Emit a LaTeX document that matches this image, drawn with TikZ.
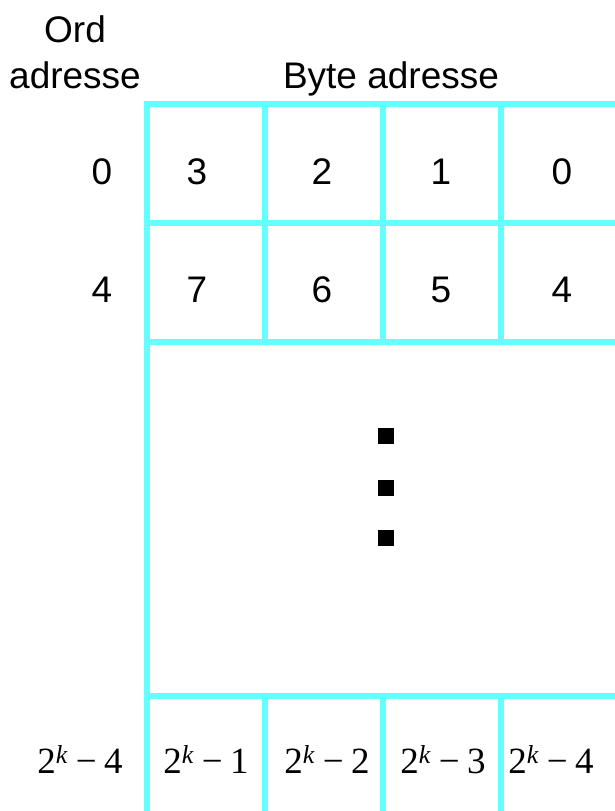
\documentclass[tikz,border=0pt]{standalone}
\usepackage{fontspec}
\setmainfont{Liberation Sans}
\newfontfamily\tms{Liberation Serif}
\usetikzlibrary{positioning}
\definecolor{gridcyan}{RGB}{102,255,255}
\newcommand{\pw}[1]{{\tms 2\textsuperscript{\itshape k}\kern0.22em−\kern0.2em#1}}

\begin{document}
\begin{tikzpicture}[
  x=1pt,y=-1pt,
  font=\fontsize{37}{46}\selectfont,
  lbl/.style={anchor=base,inner sep=0pt},
  pwl/.style={lbl,font=\fontsize{37}{44}\selectfont},
  gl/.style={draw=gridcyan,line width=6pt},
  dotsq/.style={fill=black,minimum size=16pt,inner sep=0pt}
]
\useasboundingbox (0,0) rectangle (614,811);

% grid
\foreach \y in {104,223,342,696} \draw[gl] (144,\y) -- (630,\y);
\draw[gl] (147,101) -- (147,830);
\foreach \x in {265,383,501} {
  \draw[gl] (\x,101) -- (\x,342);
  \draw[gl] (\x,696) -- (\x,830);
}

% headers
\node[lbl] (ord)  at (75,42) {Ord};
\node[lbl] (adr)  at (75,88) {adresse};
\node[lbl] (byte) at (391,88) {Byte adresse};

% word addresses
\node[lbl] (w0) at (102,184) {0};
\node[lbl] (w4) at (102,302) {4};
\node[pwl] (wk) at (80,773) {\pw{4}};

% bytes
\node[lbl] (b3) at (197,184) {3};
\node[lbl] (b2) at (322,184) {2};
\node[lbl] (b1) at (441,184) {1};
\node[lbl] (b0) at (562,184) {0};
\node[lbl] (b7) at (197,302) {7};
\node[lbl] (b6) at (322,302) {6};
\node[lbl] (b5) at (441,302) {5};
\node[lbl] (b4) at (562,302) {4};

\node[pwl] (k1) at (206,773) {\pw{1}};
\node[pwl] (k2) at (327,773) {\pw{2}};
\node[pwl] (k3) at (443,773) {\pw{3}};
\node[pwl] (k4) at (551,773) {\pw{4}};

% dots
\foreach \y/\n in {436/d1,488/d2,538/d3} \node[dotsq] (\n) at (386,\y) {};
\end{tikzpicture}
\end{document}
